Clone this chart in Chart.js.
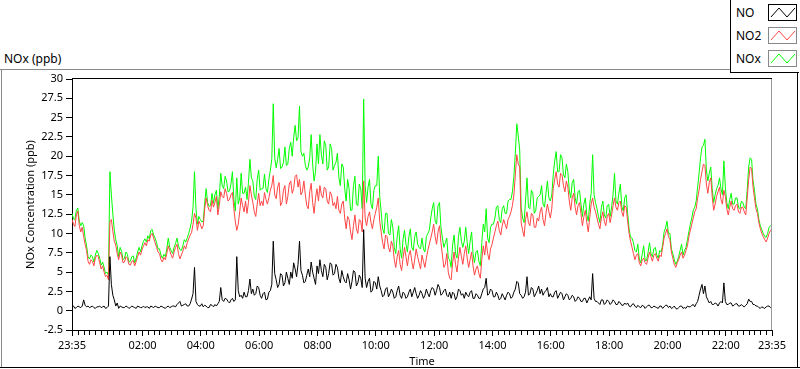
<!DOCTYPE html>
<html lang="en">
<head>
  <meta charset="UTF-8">
  <title>NOx (ppb)</title>
  <script src="https://cdn.jsdelivr.net/npm/chart.js"></script>
  <style>
    body {
      margin: 0;
      background: #fff;
      font-family: "Noto Sans", sans-serif;
      color: #000;
    }
    #wrap {
      position: relative;
      width: 800px;
      height: 369px;
      overflow: hidden;
    }
    #chart {
      position: absolute;
      left: 0;
      top: 0;
    }
    .line { position: absolute; }
    #graphTitle {
      position: absolute;
      left: 4px;
      top: 50px;
      font-size: 12px;
    }
    #legend {
      position: absolute;
      left: 730px;
      top: -1px;
      width: 68px;
      height: 73px;
      background: #fff;
      border-left: 1px solid #000;
      border-bottom: 1px solid #000;
    }
    .item {
      position: absolute;
      left: 5px;
      width: 62px;
      height: 17px;
    }
    .item span {
      position: absolute;
      left: 0;
      top: 0;
      font-size: 12px;
      line-height: 17px;
    }
    .item svg {
      position: absolute;
      left: 32px;
      top: 0;
    }
  </style>
</head>
<body>
  <div id="wrap">
    <!-- graph frame -->
    <div class="line" style="left:0;top:69px;width:730px;height:1px;background:#8a8a8a"></div>
    <div class="line" style="left:1px;top:69px;width:1px;height:299px;background:#8a8a8a"></div>
    <div class="line" style="left:0;top:367px;width:800px;height:1px;background:#000"></div>
    <div class="line" style="left:797px;top:0;width:1px;height:368px;background:#000"></div>

    <div id="graphTitle">NOx (ppb)</div>
    <canvas id="chart" width="800" height="369"></canvas>

    <div id="legend"></div>
  </div>

  <script>
    // ---------------- data (one sample every 3 minutes from 23:35) ---------------- //
    const startTime = '23:35';
    const sampleMinutes = 3;
    const timeLabels = ['02:00', '04:00', '06:00', '08:00', '10:00', '12:00',
                        '14:00', '16:00', '18:00', '20:00', '22:00'];
    const yTicks = [-2.5, 0, 2.5, 5, 7.5, 10, 12.5, 15, 17.5, 20, 22.5, 25, 27.5, 30];
    const seriesNames = ['NO', 'NO2', 'NOx'];

    // one row = half an hour
    const noValues = [
      0.5, 0.6, 0.3, 0.4, 0.6, 0.5, 0.4, 0.6, 1.4, 0.7,
      0.5, 0.6, 0.4, 0.5, 0.6, 0.4, 0.3, 0.5, 0.5, 0.6,
      0.4, 0.5, 0.6, 0.3, 0.4, 0.6, 7.0, 3.4, 2.0, 1.4,
      0.6, 1.0, 0.3, 0.6, 0.5, 0.4, 0.4, 0.6, 0.5, 0.3,
      0.4, 0.6, 0.5, 0.4, 0.3, 0.6, 0.5, 0.4, 0.4, 0.6,
      0.4, 0.5, 0.5, 0.3, 0.6, 0.5, 0.4, 0.6, 0.5, 0.4,
      0.4, 0.6, 0.5, 0.4, 0.3, 0.5, 0.6, 0.4, 0.5, 0.6,
      0.6, 0.5, 0.8, 1.0, 1.2, 0.6, 0.7, 0.8, 0.9, 0.6,
      0.6, 0.9, 1.5, 2.2, 5.6, 1.2, 0.8, 0.6, 0.6, 0.9,
      0.5, 0.7, 0.6, 0.4, 0.4, 0.8, 0.7, 0.5, 0.8, 0.6,
      0.9, 1.2, 3.0, 1.4, 1.2, 1.6, 1.5, 1.2, 1.0, 1.4,
      1.6, 1.2, 1.4, 7.0, 2.6, 1.8, 2.0, 1.6, 2.4, 1.8,
      1.8, 2.6, 4.1, 2.2, 2.8, 2.0, 2.2, 3.2, 3.0, 2.0,
      1.6, 2.2, 2.4, 1.4, 1.5, 2.4, 2.6, 3.4, 9.0, 4.8,
      4.0, 3.0, 3.4, 4.8, 4.6, 3.2, 3.6, 5.0, 4.2, 3.4,
      5.0, 4.2, 6.2, 5.4, 4.4, 6.0, 9.0, 5.2, 4.6, 3.6,
      3.8, 4.6, 5.4, 4.4, 6.3, 5.0, 4.2, 3.4, 5.8, 4.8,
      6.6, 5.2, 4.4, 6.0, 5.6, 4.0, 4.8, 6.2, 6.0, 4.6,
      4.8, 6.0, 5.6, 4.2, 3.6, 5.2, 4.4, 3.8, 3.6, 4.8,
      4.0, 2.8, 3.8, 5.2, 5.0, 3.2, 3.6, 4.6, 4.2, 3.0,
      10.5, 4.2, 3.0, 3.8, 4.2, 2.4, 2.6, 3.8, 3.6, 2.8,
      4.4, 3.2, 2.6, 1.8, 2.0, 2.8, 3.0, 1.8, 2.2, 2.8,
      2.4, 1.6, 1.8, 2.6, 3.2, 2.0, 1.6, 2.4, 2.2, 1.6,
      1.8, 2.4, 2.8, 1.8, 2.4, 3.0, 2.2, 1.6, 2.0, 2.6,
      2.2, 1.6, 2.0, 2.8, 2.2, 1.8, 2.6, 3.0, 2.8, 2.0,
      2.6, 3.4, 3.0, 2.0, 2.2, 2.6, 2.8, 2.0, 1.8, 2.4,
      1.6, 2.4, 2.2, 1.4, 1.8, 2.8, 2.6, 2.0, 2.2, 1.6,
      2.4, 2.0, 1.8, 2.4, 2.6, 1.6, 1.6, 2.2, 2.0, 1.6,
      1.6, 2.2, 2.8, 3.0, 4.2, 2.0, 2.2, 2.8, 2.6, 1.8,
      1.8, 2.4, 2.0, 1.4, 1.6, 2.2, 1.8, 1.4, 2.0, 2.4,
      2.2, 1.6, 1.8, 2.4, 2.8, 3.8, 3.6, 2.2, 2.0, 1.6,
      1.8, 2.4, 4.4, 2.0, 2.2, 3.0, 2.8, 1.8, 2.2, 2.6,
      3.2, 2.2, 2.8, 2.0, 2.4, 2.6, 3.0, 1.8, 2.2, 1.8,
      1.8, 2.4, 2.6, 1.6, 2.0, 2.4, 2.2, 1.4, 1.8, 2.2,
      2.0, 1.4, 1.6, 2.0, 1.8, 1.2, 1.4, 1.8, 1.6, 1.2,
      1.2, 1.6, 1.6, 1.0, 1.4, 1.8, 1.4, 4.8, 1.6, 1.2,
      1.2, 1.0, 0.8, 1.4, 1.4, 0.8, 1.0, 1.4, 1.2, 0.8,
      1.0, 1.4, 1.2, 0.8, 0.8, 1.2, 1.0, 0.7, 0.7, 1.0,
      0.8, 1.0, 0.6, 0.5, 0.8, 0.9, 0.6, 0.4, 0.7, 0.5,
      0.4, 0.7, 0.6, 0.3, 0.5, 0.7, 0.7, 0.4, 0.4, 0.6,
      0.5, 0.4, 0.3, 0.6, 0.6, 0.3, 0.5, 0.7, 0.7, 0.4,
      0.6, 0.3, 0.4, 0.6, 0.3, 0.2, 0.4, 0.6, 0.6, 0.3,
      0.4, 0.3, 0.6, 0.5, 0.5, 0.7, 0.8, 0.5, 0.9, 1.2,
      2.0, 2.8, 3.4, 2.2, 3.2, 1.8, 1.4, 1.0, 1.2, 0.8,
      0.8, 1.0, 0.9, 0.6, 1.0, 1.2, 1.0, 3.6, 1.2, 0.8,
      0.8, 1.0, 1.0, 0.6, 0.7, 0.9, 0.9, 0.6, 0.6, 0.8,
      0.6, 0.5, 0.7, 0.9, 1.5, 1.2, 1.2, 0.8, 0.8, 0.6,
      0.6, 0.4, 0.3, 0.5, 0.4, 0.3, 0.5, 0.6, 0.6, 0.4, 0.5
    ];

    const no2Values = [
      11.8, 11.2, 10.9, 12.4, 12.9, 11.0, 10.2, 10.8, 9.6, 8.6,
      7.8, 6.4, 6.0, 6.6, 6.4, 5.8, 6.8, 7.2, 7.0, 6.2,
      5.4, 5.8, 5.0, 4.4, 4.6, 4.0, 11.5, 11.8, 10.3, 9.0,
      8.5, 7.4, 6.6, 7.6, 7.2, 6.2, 6.3, 7.0, 6.8, 6.0,
      5.9, 6.4, 6.5, 5.8, 6.4, 7.0, 7.6, 7.2, 7.9, 8.4,
      8.8, 8.4, 9.2, 9.0, 9.8, 10.0, 9.4, 8.8, 8.2, 7.6,
      7.4, 6.6, 6.3, 6.9, 6.6, 7.4, 8.4, 7.8, 7.2, 6.8,
      7.6, 8.2, 8.6, 7.4, 6.7, 7.2, 7.7, 8.4, 8.0, 8.8,
      9.3, 9.8, 10.1, 11.2, 12.6, 12.0, 10.4, 11.6, 11.2, 10.6,
      11.0, 13.2, 14.6, 13.6, 13.0, 12.8, 14.3, 13.4, 14.0, 14.8,
      12.4, 13.6, 15.4, 14.8, 14.6, 15.8, 15.2, 14.2, 14.4, 15.0,
      15.3, 13.2, 11.5, 10.4, 11.2, 12.8, 14.6, 13.6, 12.8, 14.2,
      12.6, 14.0, 16.2, 15.0, 14.0, 12.8, 12.2, 13.8, 15.2, 13.6,
      14.2, 13.6, 15.3, 14.4, 13.8, 14.6, 15.6, 16.2, 17.5, 15.0,
      14.5, 16.0, 16.6, 13.6, 14.0, 15.6, 16.2, 13.8, 14.8, 16.4,
      16.8, 15.2, 15.8, 17.4, 17.6, 16.0, 17.0, 15.0, 15.4, 16.8,
      15.0, 13.6, 13.2, 15.4, 16.5, 14.0, 12.6, 14.6, 15.8, 14.2,
      16.2, 15.0, 14.6, 16.0, 15.8, 14.2, 13.8, 15.4, 15.0, 13.6,
      14.0, 13.2, 14.8, 13.0, 12.6, 13.8, 14.2, 12.0, 10.6, 12.2,
      11.8, 10.2, 9.2, 11.0, 12.4, 10.6, 10.0, 11.8, 11.6, 10.2,
      16.8, 12.0, 11.0, 12.2, 12.8, 11.4, 10.6, 11.8, 12.6, 13.4,
      14.6, 11.6, 10.2, 8.8, 8.0, 9.8, 9.6, 8.2, 7.6, 9.0,
      8.4, 6.6, 5.6, 7.0, 7.8, 6.0, 5.2, 6.8, 8.2, 7.0,
      5.8, 7.2, 7.8, 6.4, 5.4, 6.6, 8.0, 7.0, 6.2, 5.4,
      7.2, 6.4, 5.6, 6.8, 7.8, 8.6, 9.4, 10.2, 11.2, 9.6,
      8.6, 10.2, 11.0, 8.8, 7.2, 5.6, 6.0, 7.4, 5.0, 4.2,
      4.0, 6.2, 7.6, 6.0, 5.0, 6.8, 8.2, 7.0, 6.0, 7.4,
      8.4, 6.8, 5.6, 6.6, 7.6, 5.8, 4.6, 5.4, 5.8, 4.8,
      4.2, 6.6, 8.4, 7.2, 9.0, 7.4, 6.6, 8.0, 8.6, 9.4,
      10.2, 11.0, 11.6, 10.4, 9.8, 11.0, 11.8, 11.2, 10.6, 11.8,
      12.2, 12.8, 13.6, 15.0, 17.6, 20.2, 19.0, 18.6, 11.4, 10.4,
      9.6, 11.8, 12.8, 11.4, 11.0, 12.6, 12.4, 10.8, 10.8, 12.0,
      11.6, 12.8, 13.4, 11.8, 11.0, 12.6, 13.8, 12.8, 12.0, 13.2,
      15.8, 17.0, 18.0, 16.4, 16.0, 17.8, 17.6, 16.2, 15.4, 16.8,
      16.0, 14.2, 13.0, 14.6, 15.2, 13.4, 12.4, 13.6, 14.0, 12.6,
      11.0, 12.2, 13.0, 11.4, 10.2, 12.0, 13.8, 14.6, 13.4, 12.8,
      12.0, 11.2, 10.6, 12.0, 12.8, 11.6, 11.0, 12.2, 12.6, 11.4,
      12.4, 13.6, 14.6, 13.4, 13.0, 14.0, 14.2, 12.8, 12.2, 13.6,
      13.4, 11.6, 10.0, 9.0, 8.2, 7.4, 6.6, 7.2, 7.4, 6.2,
      5.8, 6.6, 6.8, 6.2, 6.0, 6.8, 7.6, 7.0, 6.4, 7.2,
      7.4, 6.8, 6.4, 7.2, 7.0, 8.2, 9.4, 10.0, 10.6, 9.6,
      9.2, 7.6, 6.8, 6.0, 5.6, 6.2, 6.6, 7.2, 7.6, 6.8,
      7.2, 7.8, 8.4, 9.6, 10.4, 11.2, 12.0, 12.8, 13.2, 14.6,
      15.6, 17.0, 18.0, 19.0, 18.8, 16.4, 15.2, 16.6, 17.2, 14.8,
      13.0, 13.8, 14.8, 15.4, 16.0, 14.4, 13.8, 15.6, 14.8, 13.2,
      12.4, 13.4, 14.2, 13.2, 13.0, 13.6, 13.8, 12.8, 12.6, 13.4,
      13.4, 12.8, 12.4, 14.6, 17.0, 18.6, 18.4, 16.0, 14.6, 13.2,
      12.6, 11.4, 10.6, 10.0, 9.6, 9.2, 8.9, 9.4, 10.0, 10.4, 10.6
    ];

    const noxValues = [
      12.6, 11.9, 11.8, 13.0, 13.3, 11.6, 11.0, 11.4, 11.0, 9.4,
      8.4, 7.0, 6.7, 7.2, 7.0, 6.3, 7.2, 7.8, 7.4, 6.8,
      5.9, 6.3, 5.6, 4.8, 5.0, 4.6, 18.0, 15.0, 12.5, 10.4,
      9.2, 8.4, 7.0, 8.2, 7.7, 6.6, 6.8, 7.6, 7.3, 6.3,
      6.4, 7.0, 7.1, 6.2, 6.8, 7.6, 8.2, 7.6, 8.4, 9.0,
      9.3, 8.9, 9.7, 9.3, 10.4, 10.5, 9.8, 9.4, 8.8, 8.0,
      8.0, 7.2, 6.8, 7.3, 7.0, 8.0, 9.4, 8.2, 7.8, 7.4,
      8.2, 8.7, 9.4, 8.4, 7.9, 7.8, 8.4, 9.2, 8.9, 9.4,
      10.0, 10.7, 11.6, 13.4, 18.0, 13.2, 11.2, 12.2, 11.8, 11.5,
      11.6, 14.0, 15.8, 14.0, 13.5, 13.6, 15.2, 13.9, 15.0, 15.6,
      13.2, 14.8, 17.8, 16.2, 15.8, 17.4, 16.8, 15.4, 15.5, 16.4,
      18.0, 14.4, 12.9, 17.2, 13.8, 14.6, 17.8, 15.2, 15.2, 16.0,
      14.4, 16.6, 19.6, 17.2, 16.8, 14.8, 14.4, 17.0, 18.2, 15.6,
      15.8, 15.8, 17.7, 15.8, 15.3, 17.0, 18.2, 19.6, 26.8, 19.8,
      18.5, 19.6, 21.0, 18.4, 18.6, 19.2, 21.2, 18.8, 19.0, 21.0,
      21.8, 20.0, 22.4, 24.0, 22.0, 22.4, 26.5, 20.6, 20.0, 20.4,
      18.8, 18.2, 18.6, 19.8, 22.8, 19.0, 16.8, 18.0, 21.6, 19.0,
      22.8, 20.2, 19.0, 22.0, 21.4, 18.2, 18.6, 21.6, 21.0, 18.2,
      18.8, 19.2, 20.4, 17.2, 16.2, 19.0, 18.6, 15.8, 14.2, 17.0,
      15.8, 13.0, 13.0, 16.2, 17.4, 13.8, 13.6, 16.4, 15.8, 13.2,
      27.4, 16.2, 14.0, 16.0, 17.0, 13.8, 13.2, 15.6, 16.2, 16.2,
      20.0, 14.8, 12.8, 10.6, 10.0, 12.6, 12.6, 10.0, 9.8, 11.8,
      10.8, 8.2, 7.4, 9.6, 11.0, 8.0, 6.8, 9.2, 10.4, 8.6,
      7.6, 9.6, 10.6, 8.2, 7.8, 9.6, 10.2, 8.6, 8.2, 8.0,
      9.4, 8.0, 7.6, 9.6, 10.0, 10.4, 12.0, 13.2, 14.0, 11.6,
      11.2, 13.6, 14.0, 10.8, 9.4, 8.2, 8.8, 9.4, 6.8, 6.6,
      5.6, 8.6, 9.8, 7.4, 6.8, 9.6, 10.8, 9.0, 8.2, 9.0,
      10.8, 8.8, 7.4, 9.0, 10.2, 7.4, 6.2, 7.6, 7.8, 6.4,
      5.8, 8.8, 11.2, 10.2, 13.2, 9.4, 8.8, 10.8, 11.2, 11.2,
      12.0, 13.4, 13.6, 11.8, 11.4, 13.2, 13.6, 12.6, 12.6, 14.2,
      14.4, 14.4, 15.4, 17.4, 20.4, 24.2, 22.6, 20.8, 13.4, 12.0,
      11.4, 14.2, 17.2, 13.4, 13.2, 15.6, 15.2, 12.6, 13.0, 14.6,
      14.8, 15.0, 16.2, 13.8, 13.4, 15.2, 16.8, 14.6, 14.2, 15.0,
      17.6, 19.4, 20.6, 18.0, 18.0, 20.2, 19.8, 17.6, 17.2, 19.0,
      18.0, 15.6, 14.6, 16.6, 17.0, 14.6, 13.8, 15.4, 15.6, 13.8,
      12.2, 13.8, 14.6, 12.4, 11.6, 13.8, 15.2, 20.2, 15.0, 14.0,
      13.2, 12.2, 11.4, 13.4, 14.2, 12.4, 12.0, 13.6, 13.8, 12.2,
      13.4, 15.0, 17.8, 14.2, 13.8, 15.2, 16.4, 13.5, 12.9, 14.6,
      15.0, 12.6, 10.6, 9.5, 9.4, 8.8, 7.8, 7.6, 8.6, 6.7,
      6.2, 7.3, 8.4, 6.5, 6.5, 7.5, 8.8, 7.4, 7.0, 8.0,
      8.2, 7.2, 6.8, 7.8, 7.6, 8.5, 10.2, 10.7, 11.6, 10.0,
      10.0, 8.0, 7.4, 6.6, 6.0, 6.4, 7.0, 7.8, 8.6, 7.2,
      7.8, 8.2, 9.2, 10.2, 11.2, 12.0, 13.0, 13.4, 14.2, 16.0,
      17.8, 19.8, 21.2, 21.4, 22.2, 18.2, 16.8, 17.8, 18.6, 15.8,
      14.0, 15.0, 15.8, 16.2, 17.2, 15.8, 15.0, 19.4, 16.0, 14.0,
      13.2, 14.4, 15.2, 13.8, 13.8, 14.6, 14.6, 13.4, 13.2, 14.2,
      14.0, 13.4, 13.2, 15.6, 18.6, 19.8, 19.6, 16.8, 15.6, 13.8,
      13.2, 11.8, 11.0, 10.5, 10.0, 9.6, 9.5, 10.0, 10.8, 11.0, 11.2
    ];

    const seriesColors = ['#000000', '#ff4444', '#00ff00'];

    // ---------------- time axis helpers ---------------- //
    function toMinutes(label) {
      const [h, m] = label.split(':').map(Number);
      return h * 60 + m;
    }
    const startMin = toMinutes(startTime);
    const spanMin = 24 * 60;
    const offsetOf = label => (toMinutes(label) - startMin + spanMin) % spanMin;

    const majorLabels = { 0: startTime };
    majorLabels[spanMin] = startTime;
    timeLabels.forEach(t => { majorLabels[offsetOf(t)] = t; });

    // minor ticks every 12 minutes on the clock, plus both ends
    const tickValues = [0];
    for (let m = (12 - (startMin % 12)) % 12; m < spanMin; m += 12) {
      if (m > 0) tickValues.push(m);
    }
    tickValues.push(spanMin);

    const toPoints = values => values.map((v, i) => ({ x: i * sampleMinutes, y: v }));

    // ---------------- legend ---------------- //
    const legend = document.getElementById('legend');
    seriesNames.forEach((name, i) => {
      const item = document.createElement('div');
      item.className = 'item';
      item.style.top = (5 + i * 23) + 'px';
      item.innerHTML =
        '<span>' + name + '</span>' +
        '<svg width="29" height="17">' +
        '<rect x="0.5" y="0.5" width="28" height="16" fill="#fff" stroke="' + (i === 0 ? '#000' : '#888') + '"/>' +
        '<polyline points="3,13 11,4 19,13 27,4" fill="none" stroke="' + seriesColors[i] + '" stroke-width="1"/>' +
        '</svg>';
      legend.appendChild(item);
    });

    // ---------------- chart ---------------- //
    const plotFrame = {
      id: 'plotFrame',
      afterDraw(chart) {
        const { ctx, chartArea: a } = chart;
        ctx.save();
        ctx.lineWidth = 1;
        ctx.strokeStyle = '#000';
        ctx.beginPath();
        ctx.moveTo(a.left, a.top - 0.5);
        ctx.lineTo(a.right, a.top - 0.5);
        ctx.stroke();
        ctx.strokeStyle = '#999';
        ctx.beginPath();
        ctx.moveTo(a.right - 0.5, a.top);
        ctx.lineTo(a.right - 0.5, a.bottom);
        ctx.stroke();
        ctx.restore();
      }
    };

    Chart.defaults.font.family = '"Noto Sans", sans-serif';
    Chart.defaults.font.size = 11;
    Chart.defaults.color = '#000';

    const values = [noValues, no2Values, noxValues];

    new Chart(document.getElementById('chart'), {
      type: 'line',
      data: {
        datasets: seriesNames.map((name, i) => ({
          label: name,
          data: toPoints(values[i]),
          borderColor: seriesColors[i],
          borderWidth: 1,
          pointRadius: 0,
          tension: 0,
          fill: false
        }))
      },
      options: {
        responsive: false,
        animation: false,
        events: [],
        layout: { padding: { top: 79, right: 28, bottom: 0, left: 0 } },
        plugins: {
          legend: { display: false },
          tooltip: { enabled: false }
        },
        scales: {
          x: {
            type: 'linear',
            min: 0,
            max: spanMin,
            afterBuildTicks: scale => { scale.ticks = tickValues.map(v => ({ value: v })); },
            afterFit: scale => { scale.height = 39; },
            ticks: {
              autoSkip: false,
              maxRotation: 0,
              padding: 3,
              callback: v => majorLabels[v] || ''
            },
            grid: {
              drawOnChartArea: false,
              tickLength: 6,
              tickColor: '#000',
              tickBorderDash: c => (c.tick && majorLabels[c.tick.value] !== undefined) ? [] : [4, 10]
            },
            border: { color: '#000' },
            title: { display: true, text: 'Time', padding: { top: 0, bottom: 1 } }
          },
          y: {
            min: -2.5,
            max: 30,
            afterBuildTicks: scale => { scale.ticks = yTicks.map(v => ({ value: v })); },
            afterFit: scale => { scale.width = 72; },
            ticks: { padding: 3, callback: v => String(v) },
            grid: { drawOnChartArea: false, tickLength: 6, tickColor: '#000' },
            border: { color: '#000' },
            title: { display: true, text: 'NOx Concentration (ppb)', padding: { top: 24, bottom: 0 } }
          }
        }
      },
      plugins: [plotFrame]
    });
  </script>
</body>
</html>
